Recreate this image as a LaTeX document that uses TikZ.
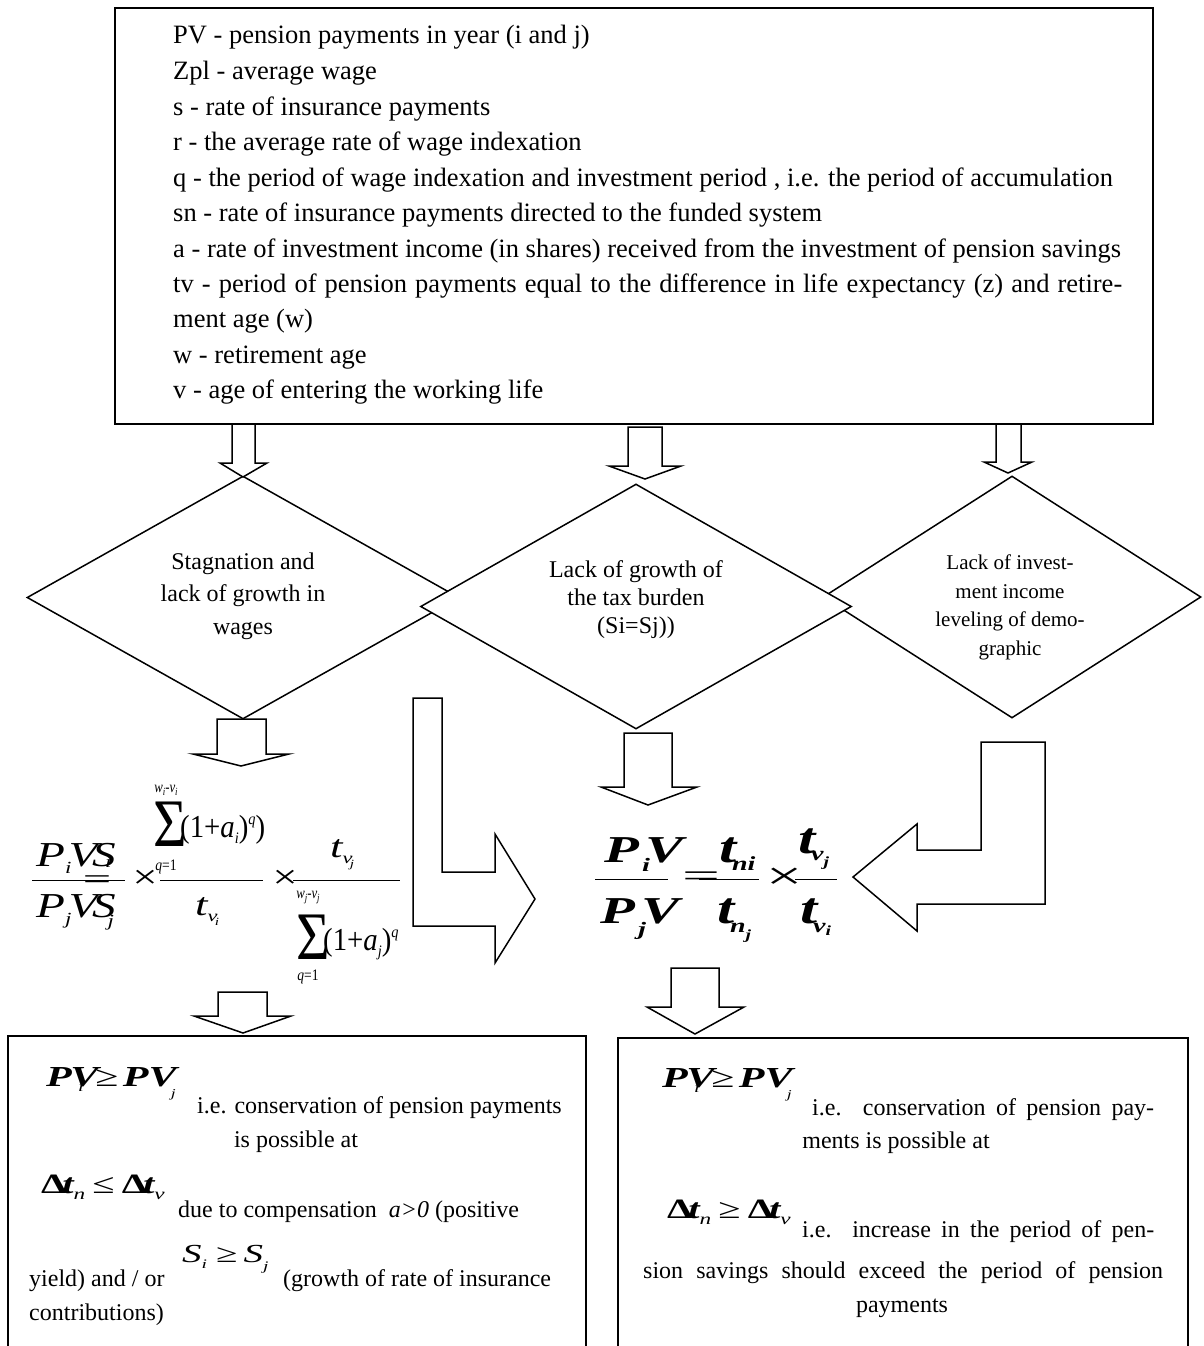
\documentclass[tikz,border=0pt]{standalone}
\usepackage{fontspec}
\setmainfont{Liberation Serif}
\usetikzlibrary{shapes.geometric}
\newcommand\sz[1]{\fontsize{#1}{#1}\selectfont}
\newcommand\lowr[3]{\raisebox{-#1pt}{\sz{#2}#3}}
\newcommand\upr[3]{\raisebox{#1pt}{\sz{#2}#3}}
\begin{document}
\begin{tikzpicture}[x=1pt,y=-1pt,
  shp/.style={draw, line width=1.5pt, fill=white, line join=miter},
  dia/.style={shp, diamond, inner sep=0pt},
  topln/.style={anchor=base west, inner sep=0pt, font=\sz{26.5}},
  btxt/.style={anchor=base west, inner sep=0pt, font=\sz{24}},
  btxc/.style={anchor=base, inner sep=0pt, font=\sz{24}},
  eq/.style={anchor=base west, inner sep=0pt},
  eqc/.style={anchor=center, inner sep=0pt},
  fbar/.style={line width=1pt}]
\fill[white] (0,0) rectangle (1203,1346);
\useasboundingbox (0,0) rectangle (1203,1346);

% top box
\node[shp, inner sep=0pt, minimum width=1038pt, minimum height=416pt] (topbox) at (634,216) {};
\node[topln] (t1) at (173,44) {PV - pension payments in year (i and j)};
\node[topln] (t2) at (173,79.5) {Zpl - average wage};
\node[topln] (t3) at (173,115) {s - rate of insurance payments};
\node[topln] (t4) at (173,150) {r - the average rate of wage indexation};
\node[topln] (t5) at (173,186) {q - the period of wage indexation and investment period , i.e. the period of accumulation};
\node[topln] (t6) at (173,221) {sn - rate of insurance payments directed to the funded system};
\node[topln] (t7) at (173,257) {a - rate of investment income (in shares) received from the investment of pension savings};
\node[topln] (t8) at (173,292) {\makebox[949pt][s]{tv - period of pension payments equal to the difference in life expectancy (z) and retire-}};
\node[topln] (t9) at (173,327) {ment age (w)};
\node[topln] (t10) at (173,363) {w - retirement age};
\node[topln] (t11) at (173,398) {v - age of entering the working life};

% diamonds
\node[dia, minimum width=432pt, minimum height=243pt] (dL) at (243,597.5) {};
\node[dia, minimum width=378pt, minimum height=242pt] (dR) at (1012,597) {};
\node[dia, minimum width=431pt, minimum height=245pt] (dM) at (636,606.5) {};
\node[align=center, inner sep=0pt, font=\fontsize{24}{32.5}\selectfont] (dLt) at (243,596) {Stagnation and\\lack of growth in\\wages};
\node[align=center, inner sep=0pt, font=\fontsize{24}{28}\selectfont] (dMt) at (636,600) {Lack of growth of\\the tax burden\\(Si=Sj))};
\node[align=center, inner sep=0pt, font=\fontsize{21}{28.5}\selectfont] (dRt) at (1010,607.5) {Lack of invest-\\ment income\\leveling of demo-\\graphic};

% block arrows
\draw[shp] (232,424)--(255,424)--(255,463)--(267,463)--(243,477)--(220,463)--(232,463)--cycle;
\draw[shp] (628,427)--(662,427)--(662,466)--(681,466)--(645,479)--(609,466)--(628,466)--cycle;
\draw[shp] (996,424)--(1021,424)--(1021,462)--(1032,462)--(1008,473)--(984,462)--(996,462)--cycle;
\draw[shp] (217,719)--(266,719)--(266,754)--(289,754)--(241,766)--(193,754)--(217,754)--cycle;
\draw[shp] (624,733)--(672,733)--(672,787)--(697,787)--(648,805)--(601,787)--(624,787)--cycle;
\draw[shp] (218,992)--(267,992)--(267,1016)--(291,1016)--(243,1033)--(194,1016)--(218,1016)--cycle;
\draw[shp] (671,968)--(719,968)--(719,1007)--(744,1007)--(695,1034)--(647,1007)--(671,1007)--cycle;
\draw[shp] (413,698)--(442,698)--(442,872)--(495,872)--(495,834)--(535,899)--(495,963)--(495,926)--(413,926)--cycle;
\draw[shp] (981,742)--(1045,742)--(1045,904)--(917,904)--(917,931)--(853,877)--(917,824)--(917,850)--(981,850)--cycle;

% left formula
\draw[fbar] (32,880) -- (125,880);
\draw[fbar] (160,880) -- (263,880);
\draw[fbar] (293,880) -- (400,880);
\node[eq] (lfn) at (36,866) {\scalebox{1.35}[1]{\sz{35}\itshape P\lowr{7}{17}{i}\hspace{-2pt}V\hspace{-4pt}S\hspace{-8pt}\lowr{1}{17}{i}}};
\node[eq] (lfd) at (36,917) {\scalebox{1.35}[1]{\sz{35}\itshape P\lowr{7}{17}{j}\hspace{-2pt}V\hspace{-4pt}S\hspace{-6pt}\lowr{9}{17}{j}}};
\node[eqc] (lfe) at (97,882) {\scalebox{1.8}[1]{\sz{28}=}};
\node[eqc] (lfx1) at (145,879) {\scalebox{1.3}[1]{\sz{34}×}};
\node[eqc] (lfs1u) at (166,790) {\scalebox{0.8}[1]{\sz{16}\itshape w\lowr{3}{11}{i}-v\lowr{3}{11}{i}}};
\node[eqc] (lfs1) at (170,824) {\scalebox{0.85}[1]{\sz{68}Σ}};
\node[eq] (lfp1) at (180,837) {\scalebox{0.9}[1]{\sz{32}(1+\textit{a}\lowr{6}{16}{\textit{i}})\upr{13}{16}{\textit{q}})}};
\node[eqc] (lfq1) at (166,867) {\scalebox{0.85}[1]{\sz{16}\textit{q}=1}};
\node[eq] (lft1) at (195,915) {\scalebox{1.4}[1]{\sz{32}\itshape t\lowr{6}{16}{v}\hspace{-2pt}\lowr{10}{11}{i}}};
\node[eqc] (lfx2) at (285,879) {\scalebox{1.3}[1]{\sz{34}×}};
\node[eq] (lft2) at (330,857) {\scalebox{1.4}[1]{\sz{32}\itshape t\lowr{6}{16}{v}\hspace{-2pt}\lowr{10}{11}{j}}};
\node[eqc] (lfs2u) at (308,897) {\scalebox{0.8}[1]{\sz{16}\itshape w\lowr{3}{11}{j}-v\lowr{3}{11}{j}}};
\node[eqc] (lfs2) at (313,937) {\scalebox{0.85}[1]{\sz{68}Σ}};
\node[eq] (lfp2) at (323,950) {\scalebox{0.9}[1]{\sz{32}(1+\textit{a}\lowr{6}{16}{\textit{j}})\upr{13}{16}{\textit{q}}}};
\node[eqc] (lfq2) at (308,977) {\scalebox{0.85}[1]{\sz{16}\textit{q}=1}};

% right formula
\draw[fbar] (595,879) -- (668,879);
\draw[fbar] (699,879) -- (759,879);
\draw[fbar] (795,879) -- (837,879);
\node[eq] (rfn) at (604,862) {\scalebox{1.5}[1]{\sz{38}\bfseries\itshape P\hspace{2pt}\lowr{9}{19}{i}\hspace{-3pt}V}};
\node[eq] (rfd) at (600,923) {\scalebox{1.5}[1]{\sz{38}\bfseries\itshape P\hspace{2pt}\lowr{12}{19}{j}\hspace{-3pt}V}};
\node[eqc] (rfe) at (701,879) {\scalebox{2.1}[1]{\sz{32}=}};
\node[eq] (rft1) at (719,862) {\scalebox{1.4}[1]{\sz{44}\bfseries\itshape t\hspace{-3pt}\lowr{8}{20}{ni}}};
\node[eq] (rft2) at (717,923) {\scalebox{1.4}[1]{\sz{44}\bfseries\itshape t\hspace{-3pt}\lowr{9}{20}{n}\lowr{16}{14}{j}}};
\node[eqc] (rfx) at (785,879) {\scalebox{1.6}[1]{\sz{40}×}};
\node[eq] (rft3) at (798,853) {\scalebox{1.4}[1]{\sz{44}\bfseries\itshape t\hspace{-3pt}\lowr{7}{20}{v}\lowr{13}{14}{j}}};
\node[eq] (rft4) at (800,923) {\scalebox{1.4}[1]{\sz{44}\bfseries\itshape t\hspace{-3pt}\lowr{9}{20}{v}\lowr{12}{14}{i}}};

% bottom boxes
\node[draw, line width=1.5pt, inner sep=0pt, minimum width=578pt, minimum height=340pt] (lbox) at (297,1206) {};
\node[draw, line width=1.5pt, inner sep=0pt, minimum width=570pt, minimum height=340pt] (rbox) at (903,1208) {};

\node[eq] (lb1) at (46,1086) {\scalebox{1.45}[1]{\sz{29}\bfseries\itshape P\hspace{-1pt}V\hspace{-14pt}\lowr{5}{14}{\mdseries i}\hspace{8pt}{\normalfont ≥}\hspace{3pt}PV\hspace{-4pt}\lowr{11}{12}{\mdseries j}}};
\node[eq] (lb2) at (41,1193) {\scalebox{1.45}[1]{\sz{28}\bfseries Δ\hspace{-3pt}\itshape t\lowr{6}{16}{\mdseries n}\hspace{5pt}{\normalfont ≤}\hspace{5pt}\upshape Δ\hspace{-3pt}\itshape t\lowr{6}{16}{\mdseries v}}};
\node[eq] (lb3) at (182,1262) {\scalebox{1.5}[1]{\sz{26}\itshape S\lowr{6}{13}{i}\hspace{6pt}{\normalfont ≥}\hspace{4pt}S\lowr{8}{13}{j}}};
\node[btxt] (lbt1) at (197,1113) {i.e. conservation of pension payments};
\node[btxc] (lbt2) at (296,1147) {is possible at};
\node[btxt] (lbt3) at (178,1217) {due to compensation\ \ \textit{a>0} (positive};
\node[btxt] (lbt4) at (29,1286) {yield) and / or};
\node[btxt] (lbt5) at (283,1286) {(growth of rate of insurance};
\node[btxt] (lbt6) at (29,1320) {contributions)};

\node[eq] (rb1) at (662,1087) {\scalebox{1.45}[1]{\sz{29}\bfseries\itshape P\hspace{-1pt}V\hspace{-14pt}\lowr{5}{14}{\mdseries i}\hspace{8pt}{\normalfont ≥}\hspace{3pt}PV\hspace{-4pt}\lowr{11}{12}{\mdseries j}}};
\node[eq] (rb2) at (667,1218) {\scalebox{1.45}[1]{\sz{28}\bfseries Δ\hspace{-3pt}\itshape t\lowr{6}{16}{\mdseries n}\hspace{5pt}{\normalfont ≥}\hspace{5pt}\upshape Δ\hspace{-3pt}\itshape t\lowr{6}{16}{\mdseries v}}};
\node[btxt] (rbt1) at (812,1115) {\makebox[342pt][s]{i.e. conservation of pension pay-}};
\node[btxc] (rbt2) at (896,1148) {ments is possible at};
\node[btxt] (rbt3) at (802,1237) {\makebox[352pt][s]{i.e. increase in the period of pen-}};
\node[btxt] (rbt4) at (643,1278) {\makebox[520pt][s]{sion savings should exceed the period of pension}};
\node[btxc] (rbt5) at (902,1312) {payments};
\end{tikzpicture}
\end{document}
